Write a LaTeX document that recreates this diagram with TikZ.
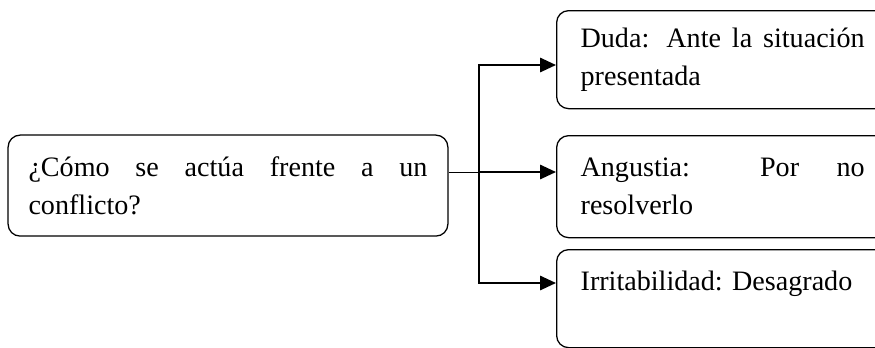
\documentclass[tikz,border=0pt]{standalone}
\usepackage{fontspec}
\setmainfont{Liberation Serif}
\usetikzlibrary{arrows.meta}
\tolerance=10000
\hyphenpenalty=10000

\begin{document}
\begin{tikzpicture}[
        caja/.style = {draw, line width = 0.9pt, rounded corners = 0.3cm, align = justify,
            font = \fontsize{20}{27}\selectfont, inner ysep = 0.2cm},
        flecha/.style = {line width = 1.4pt, -{Triangle[length = 0.4cm, width = 0.36cm]}}
    ]
            \useasboundingbox (0, 0) rectangle (21.875, -8.675);
            \def\xr{13.9}
            \def\xt{11.975}

            \node[caja, text width = 9.975cm, inner xsep = 0.51cm, minimum height = 2.525cm]
                (pregunta) at (5.7, -4.64) {¿Cómo se actúa frente a un conflicto?};

            \node[caja, anchor = north west, text width = 7.1cm, inner xsep = 0.6cm, minimum height = 2.45cm]
                (duda) at (\xr, -0.25) {Duda: Ante la situación presentada};
            \node[caja, anchor = north west, text width = 7.1cm, inner xsep = 0.6cm, minimum height = 2.55cm]
                (angustia) at (\xr, -3.375) {Angustia: Por no resolverlo};
            \node[caja, anchor = north west, text width = 7.1cm, inner xsep = 0.6cm,
                text height = 0.825cm, text depth = 1.225cm]
                (irritabilidad) at (\xr, -6.225) {Irritabilidad: Desagrado};

            \coordinate (arriba) at (\xt, -1.625);
            \coordinate (rama) at (\xt, -4.3);
            \coordinate (abajo) at (\xt, -7.075);

            \draw[line width = 0.7pt] (pregunta.east |- rama) -- (rama);
            \draw[line width = 1.4pt, line cap = rect] (arriba) -- (abajo);

            \foreach \p/\b in {arriba/duda, rama/angustia, abajo/irritabilidad}{
                \draw[flecha] (\p) -- (\p -| \b.west);
            }
        \end{tikzpicture}
\end{document}
